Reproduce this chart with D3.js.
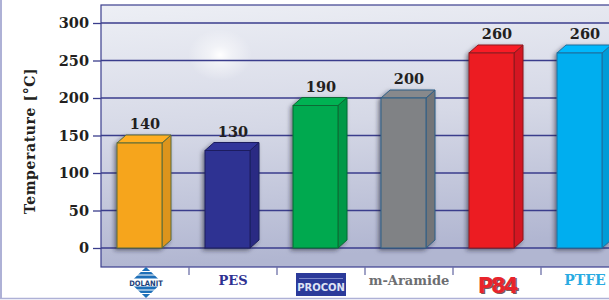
<!DOCTYPE html>
<html>
<head>
<meta charset="utf-8">
<script src="https://cdn.jsdelivr.net/npm/d3@7/dist/d3.min.js"></script>
<style>
  body { margin: 0; background: #fff; }
  svg { display: block; }
</style>
</head>
<body>
<svg width="609" height="300"></svg>
<script>
const categories = ['DOLANIT', 'PES', 'PROCON', 'm-Aramide', 'P84', 'PTFE'];
const values = [140, 130, 190, 200, 260, 260];
const barColors = ['#f6a51e', '#2e3192', '#00a94f', '#808285', '#ec1c24', '#05aeef'];
const edgeColors = ['#5a6b3a', '#1c1f5e', '#0a6b34', '#2f5f86', '#8a1a1f', '#1f6f9e'];
const yTicks = [0, 50, 100, 150, 200, 250, 300];

const svg = d3.select('svg');
const plotLeft = 101, plotTop = 5, plotBottom = 267;

const y = d3.scaleLinear().domain([0, 300]).range([248, 23]);
const x = d3.scaleBand().domain(categories).range([plotLeft, plotLeft + 88 * 6]);

const defs = svg.append('defs');
const bg = defs.append('linearGradient').attr('id', 'bg')
    .attr('x1', 0).attr('y1', 0).attr('x2', 0.15).attr('y2', 1);
bg.append('stop').attr('offset', '0%').attr('stop-color', '#edeff5');
bg.append('stop').attr('offset', '50%').attr('stop-color', '#d5d8e6');
bg.append('stop').attr('offset', '100%').attr('stop-color', '#b1b6d1');
const glare = defs.append('radialGradient').attr('id', 'glare');
glare.append('stop').attr('offset', '0%').attr('stop-color', '#fff').attr('stop-opacity', 1);
glare.append('stop').attr('offset', '35%').attr('stop-color', '#fff').attr('stop-opacity', 0.5);
glare.append('stop').attr('offset', '100%').attr('stop-color', '#fff').attr('stop-opacity', 0);
const shadow = defs.append('filter').attr('id', 'shadow')
    .attr('x', '-30%').attr('y', '-10%').attr('width', '160%').attr('height', '130%');
shadow.append('feDropShadow').attr('dx', -2).attr('dy', 2).attr('stdDeviation', 2)
    .attr('flood-color', '#1a1a33').attr('flood-opacity', 0.55);

// outer frame lines
svg.append('line').attr('x1', 1).attr('x2', 1).attr('y1', 0).attr('y2', 299)
    .attr('stroke', '#aeb1d6').attr('stroke-width', 2);
svg.append('line').attr('x1', 0).attr('x2', 609).attr('y1', 298.5).attr('y2', 298.5)
    .attr('stroke', '#aeb1d6').attr('stroke-width', 1.5);

// plot area
svg.append('rect').attr('x', plotLeft).attr('y', plotTop).attr('width', 609 - plotLeft + 2)
    .attr('height', plotBottom - plotTop).attr('fill', 'url(#bg)')
    .attr('stroke', '#3b3e8e').attr('stroke-width', 1.2);
svg.append('ellipse').attr('cx', 220).attr('cy', 55).attr('rx', 32).attr('ry', 26)
    .attr('fill', 'url(#glare)');

// gridlines
svg.append('g').selectAll('line').data(yTicks).join('line')
    .attr('x1', plotLeft).attr('x2', 609)
    .attr('y1', d => y(d)).attr('y2', d => y(d))
    .attr('stroke', '#3a3d8c').attr('stroke-width', 1.3);

// y axis
const yAxis = svg.append('g').attr('transform', `translate(${plotLeft},0)`)
    .call(d3.axisLeft(y).tickValues(yTicks).tickSize(8).tickPadding(4));
yAxis.select('.domain').remove();
yAxis.selectAll('.tick line').attr('stroke', '#3a3d8c').attr('stroke-width', 1.3);
yAxis.selectAll('.tick text')
    .attr('font-family', 'DejaVu Serif').attr('font-weight', 'bold')
    .attr('font-size', 14.5).attr('fill', '#231f20');

svg.append('text')
    .attr('transform', 'translate(35,141) rotate(-90)')
    .attr('text-anchor', 'middle')
    .attr('font-family', 'DejaVu Serif').attr('font-weight', 'bold')
    .attr('font-size', 14).attr('letter-spacing', 0.6).attr('fill', '#231f20')
    .text('Temperature [°C]');

// category ticks
svg.append('g').selectAll('line').data(categories.slice(1)).join('line')
    .attr('x1', d => x(d)).attr('x2', d => x(d))
    .attr('y1', plotBottom).attr('y2', plotBottom + 8)
    .attr('stroke', '#6d70a8').attr('stroke-width', 1.3);

// bars
const fw = 45, dx = 9, dy = 8;
const bars = svg.append('g').selectAll('g').data(values).join('g')
    .attr('filter', 'url(#shadow)');
bars.each(function (v, i) {
  const g = d3.select(this);
  const x0 = x(categories[i]) + x.bandwidth() / 2 - 28;
  const yt = y(v), y0 = y(0);
  const c = d3.color(barColors[i]);
  g.append('path')
      .attr('d', `M${x0 + fw},${yt}L${x0 + fw + dx},${yt - dy}L${x0 + fw + dx},${y0 - dy}L${x0 + fw},${y0}Z`)
      .attr('fill', c.darker(0.3)).attr('stroke', edgeColors[i]).attr('stroke-width', 1);
  g.append('path')
      .attr('d', `M${x0},${yt}L${x0 + dx},${yt - dy}L${x0 + fw + dx},${yt - dy}L${x0 + fw},${yt}Z`)
      .attr('fill', c.brighter(0.15)).attr('stroke', edgeColors[i]).attr('stroke-width', 1);
  g.append('rect').attr('x', x0).attr('y', yt).attr('width', fw).attr('height', y0 - yt)
      .attr('fill', c).attr('stroke', edgeColors[i]).attr('stroke-width', 1);
});

// value labels
svg.append('g').selectAll('text').data(values).join('text')
    .attr('x', (d, i) => x(categories[i]) + x.bandwidth() / 2)
    .attr('y', d => y(d) - dy - 6)
    .attr('text-anchor', 'middle')
    .attr('font-family', 'DejaVu Serif').attr('font-weight', 'bold')
    .attr('font-size', 14.5).attr('fill', '#231f20')
    .text(d => d);

// category labels / logos
const cx = c => x(c) + x.bandwidth() / 2;
const lab = svg.append('g');

// DOLANIT diamond
const dg = lab.append('g').attr('transform', `translate(${cx('DOLANIT') + 1},282.5)`);
dg.append('path').attr('d', 'M0,-15.5L16,0L0,15.5L-16,0Z').attr('fill', '#1d6fb8');
[-11, -7.5, 7.5, 11].forEach(s => {
  dg.append('line').attr('x1', -16).attr('x2', 16).attr('y1', s).attr('y2', s)
      .attr('stroke', '#fff').attr('stroke-width', 1);
});
dg.append('rect').attr('x', -16).attr('y', -4).attr('width', 32).attr('height', 8).attr('fill', '#fff');
dg.append('text').attr('y', 3).attr('text-anchor', 'middle')
    .attr('font-family', 'DejaVu Sans Condensed').attr('font-weight', 'bold')
    .attr('font-size', 7.5).attr('fill', '#1b3f7a').text('DOLANIT');

lab.append('text').attr('x', cx('PES')).attr('y', 285).attr('text-anchor', 'middle')
    .attr('font-family', 'DejaVu Serif').attr('font-weight', 'bold')
    .attr('font-size', 13).attr('fill', '#2e3192').text('PES');

// PROCON box
const pg = lab.append('g').attr('transform', `translate(${cx('PROCON')},284.5)`);
pg.append('rect').attr('x', -25).attr('y', -11.5).attr('width', 50).attr('height', 23).attr('fill', '#2b3a9a');
pg.append('line').attr('x1', -22).attr('x2', 22).attr('y1', -6).attr('y2', -6)
    .attr('stroke', '#8f9bd6').attr('stroke-width', 0.8);
pg.append('text').attr('y', 6).attr('text-anchor', 'middle')
    .attr('font-family', 'DejaVu Sans').attr('font-weight', 'bold')
    .attr('font-size', 10).attr('fill', '#dfe3f5').text('PROCON');

lab.append('text').attr('x', cx('m-Aramide')).attr('y', 285).attr('text-anchor', 'middle')
    .attr('font-family', 'DejaVu Serif').attr('font-weight', 'bold')
    .attr('font-size', 13).attr('fill', '#6d6e71').text('m-Aramide');

lab.append('text').attr('x', cx('P84') + 1.5).attr('y', 294).attr('text-anchor', 'middle')
    .attr('font-family', 'DejaVu Sans').attr('font-weight', 'bold')
    .attr('font-size', 21).attr('letter-spacing', -2).attr('fill', '#7a5a5c').text('P84');
lab.append('text').attr('x', cx('P84')).attr('y', 293).attr('text-anchor', 'middle')
    .attr('font-family', 'DejaVu Sans').attr('font-weight', 'bold')
    .attr('font-size', 21).attr('letter-spacing', -2).attr('fill', '#e8242c').text('P84');

lab.append('text').attr('x', cx('PTFE')).attr('y', 285).attr('text-anchor', 'middle')
    .attr('font-family', 'DejaVu Serif').attr('font-weight', 'bold')
    .attr('font-size', 14).attr('fill', '#29abe2').text('PTFE');
</script>
</body>
</html>
